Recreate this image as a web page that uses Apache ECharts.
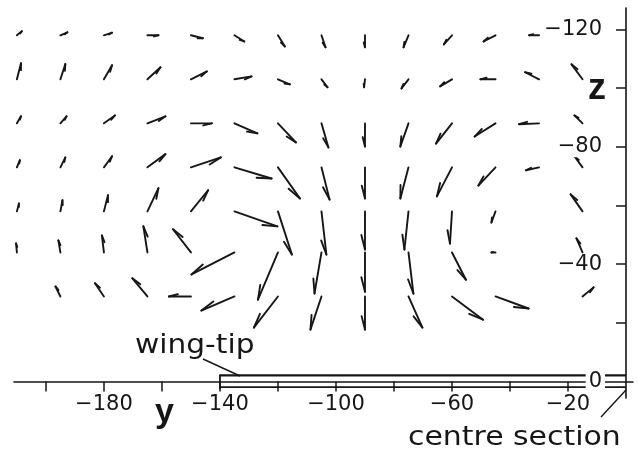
<!DOCTYPE html>
<html>
<head>
<meta charset="utf-8">
<script src="https://cdn.jsdelivr.net/npm/echarts@6/dist/echarts.min.js"></script>
<style>
  html, body { margin: 0; padding: 0; background: #ffffff; }
  #chart { width: 638px; height: 454px; }
</style>
</head>
<body>
<div id="chart"></div>
<script>
// Measurement stations: spanwise position y (columns) and height z (rows)
const yStations = [-210, -195, -180, -165, -150, -135, -120, -105, -90, -75, -60, -45, -30, -15];
const zStations = [-118, -103, -88, -73, -58, -44, -29];

// Cross-flow velocity components at each station (same units as the axes), one row per z station
const vComponent = [
  [1.7, 2.4, 2.8, 3.8, 4.1, 3.4, 2.4, 1.4, 0, -1.7, -2.8, -4.1, -3.4, null],
  [1.4, 1.7, 2.8, 4.5, 5.5, 5.9, 4.1, 2.1, -0.3, -2.4, -4.1, -5.2, -4.8, -3.8],
  [1.4, 2.1, 3.8, 6.2, 7.2, 7.9, 6.2, 2.4, 0, -2.8, -5.5, -7.2, -6.9, -2.8],
  [1.0, 1.7, 2.8, 6.2, 10.3, 12.8, 7.6, 2.8, 0, -2.8, -5.2, -5.9, -4.5, -2.8],
  [0.7, 0.7, 1.4, 3.8, 5.9, 14.8, 4.8, 1.7, 0, -1.4, -0.7, -1.4, null, -4.1],
  [-0.3, -0.7, -0.7, -1.4, -6.2, -14.8, -6.9, -2.4, 0, 1.7, 4.8, -1.4, null, -2.1],
  [null, -1.7, -3.1, -5.2, -7.6, -11.4, -8.3, -3.8, 0, 4.8, 10.7, 11.4, null, 3.8]
];
const wComponent = [
  [-1.4, -1.0, -0.9, 0, 1.0, 2.1, 3.8, 4.1, 4.1, 4.1, 3.1, 2.1, 0, null],
  [-5.5, -5.2, -4.8, -4.1, -2.7, -1.0, 1.7, 2.7, 2.7, 3.1, 2.4, 0, -2.4, -5.1],
  [-2.4, -2.4, -2.7, -2.4, 0, 3.4, 6.5, 8.2, 7.9, 7.9, 6.9, 4.5, 0.3, -2.7],
  [-2.4, -3.4, -3.8, -4.5, -3.4, 3.8, 10.6, 11.0, 10.6, 10.6, 9.9, 6.2, 1.0, -3.8],
  [-2.7, -3.8, -5.5, -7.9, -7.2, 5.1, 14.7, 14.7, 13.0, 13.0, 11.0, 3.8, null, -5.8],
  [-3.1, -4.1, -5.8, -8.9, -7.9, 7.5, 16.1, 14.0, 13.4, 14.0, 9.3, 0, null, -4.8],
  [null, -3.4, -4.5, -6.2, 0, 4.8, 10.6, 11.3, 11.3, 10.6, 7.9, 4.1, null, -3.1]
];

// Axis ticks and labels
const yTicks = [-200, -180, -160, -140, -120, -100, -80, -60, -40, -20];
const yLabels = [-180, -140, -100, -60, -20];
const zTicks = [-120, -100, -80, -60, -40, -20];
const zLabels = [-120, -80, -40, 0];

// Wing: tip and centre-section spanwise positions, plate upper/lower surfaces
const wingSpan = [-140, 0];
const wingSurfaces = [-2.1, 1.9];

const Y_MIN = -211, Y_MAX = 2.4;
const Z_MIN = -127.3, Z_MAX = 5.6;
const GRID = { left: 14, right: 5, top: 8, bottom: 56 };
const INK = '#161616';
const FONT = '"DejaVu Sans", "Liberation Sans", sans-serif';

const arrows = [];
zStations.forEach((z, i) => {
  yStations.forEach((y, j) => {
    const v = vComponent[i][j], w = wComponent[i][j];
    if (v !== null && w !== null) arrows.push([y, z, v, w]);
  });
});

const fmt = (val) => (val < 0 ? '\u2212' + Math.abs(val) : String(val));

const chart = echarts.init(document.getElementById('chart'), null, { renderer: 'canvas' });

const gridH = 454 - GRID.top - GRID.bottom;
const zeroFromBottom = gridH * Z_MAX / (Z_MAX - Z_MIN);
const gridW = 638 - GRID.left - GRID.right;
const zeroFromRight = gridW * Y_MAX / (Y_MAX - Y_MIN);

// Shaft from the station plus a single half-barb at the head
function renderArrow(params, api) {
  const y = api.value(0), z = api.value(1), v = api.value(2), w = api.value(3);
  const p0 = api.coord([y, z]);
  const p1 = api.coord([y + v, z + w]);
  const dx = p1[0] - p0[0], dy = p1[1] - p0[1];
  const L = Math.sqrt(dx * dx + dy * dy);
  if (L < 0.5) return null;
  const bx0 = -dx / L, by0 = -dy / L;
  const a = 14 * Math.PI / 180, c = Math.cos(a), s = Math.sin(a);
  const bx = c * bx0 + s * by0, by = -s * bx0 + c * by0;
  const bl = Math.min(0.42 * L, 15);
  const style = { stroke: INK, lineWidth: 1.9, lineCap: 'round', fill: null };
  return {
    type: 'group',
    children: [
      { type: 'line', shape: { x1: p0[0], y1: p0[1], x2: p1[0], y2: p1[1] }, style: style },
      { type: 'line', shape: { x1: p1[0], y1: p1[1], x2: p1[0] + bl * bx, y2: p1[1] + bl * by }, style: style }
    ]
  };
}

function renderWing(params, api) {
  const a = api.coord([wingSpan[0], wingSurfaces[0]]);
  const b = api.coord([wingSpan[1], wingSurfaces[0]]);
  const c = api.coord([wingSpan[0], wingSurfaces[1]]);
  const d = api.coord([wingSpan[1], wingSurfaces[1]]);
  return {
    type: 'group',
    children: [
      { type: 'line', shape: { x1: a[0], y1: a[1], x2: b[0], y2: b[1] }, style: { stroke: INK, lineWidth: 2.2 } },
      { type: 'line', shape: { x1: c[0], y1: c[1], x2: d[0], y2: d[1] }, style: { stroke: INK, lineWidth: 1.7 } },
      { type: 'line', shape: { x1: a[0], y1: a[1] - 1, x2: c[0], y2: c[1] + 2 }, style: { stroke: INK, lineWidth: 1.8 } }
    ]
  };
}

chart.setOption({
  backgroundColor: '#ffffff',
  animation: false,
  grid: { left: GRID.left, right: GRID.right, top: GRID.top, bottom: GRID.bottom, containLabel: false },
  xAxis: {
    type: 'value',
    min: Y_MIN, max: Y_MAX,
    position: 'bottom',
    offset: -zeroFromBottom,
    axisLine: { onZero: false, lineStyle: { color: INK, width: 1.6 } },
    axisTick: { customValues: yTicks, length: 10, lineStyle: { color: INK, width: 1.5 } },
    axisLabel: {
      customValues: yLabels, formatter: fmt, margin: 12,
      color: INK, fontFamily: FONT, fontSize: 21
    },
    splitLine: { show: false }
  },
  yAxis: {
    type: 'value',
    min: Z_MIN, max: Z_MAX,
    inverse: true,
    position: 'right',
    offset: -zeroFromRight,
    z: 10,
    axisLine: { onZero: false, lineStyle: { color: INK, width: 1.6 } },
    axisTick: { customValues: zTicks, inside: true, length: 10, lineStyle: { color: INK, width: 1.5 } },
    axisLabel: {
      customValues: zLabels, formatter: fmt, inside: true, margin: 21,
      color: INK, fontFamily: FONT, fontSize: 21,
      backgroundColor: '#ffffff', padding: [0, 3, 0, 3]
    },
    splitLine: { show: false }
  },
  series: [
    { type: 'custom', name: 'wing', renderItem: renderWing, data: [[wingSpan[0], wingSurfaces[0]]], clip: false, silent: true, z: 3 },
    { type: 'custom', name: 'cross-flow', renderItem: renderArrow, data: arrows, clip: false, silent: true, z: 4 }
  ],
  graphic: [
    { type: 'text', x: 135, y: 346, scaleX: 1.14, style: { text: 'wing-tip', x: 0, y: 0, font: '26px ' + FONT, fill: INK, verticalAlign: 'middle', align: 'left' } },
    { type: 'line', shape: { x1: 203, y1: 359, x2: 240, y2: 376 }, style: { stroke: INK, lineWidth: 1.4 } },
    { type: 'text', x: 408, y: 438, scaleX: 1.15, style: { text: 'centre section', x: 0, y: 0, font: '26px ' + FONT, fill: INK, verticalAlign: 'middle', align: 'left' } },
    { type: 'line', shape: { x1: 601, y1: 417, x2: 626, y2: 390 }, style: { stroke: INK, lineWidth: 1.4 } },
    { type: 'text', x: 155, y: 413, style: { text: 'y', x: 0, y: 0, font: 'bold 34px "Liberation Sans", sans-serif', fill: INK, verticalAlign: 'middle', align: 'left' } },
    { type: 'text', x: 588, y: 89, style: { text: 'z', x: 0, y: 0, font: 'bold 36px "Liberation Sans", sans-serif', fill: INK, verticalAlign: 'middle', align: 'left' } }
  ]
});
</script>
</body>
</html>
